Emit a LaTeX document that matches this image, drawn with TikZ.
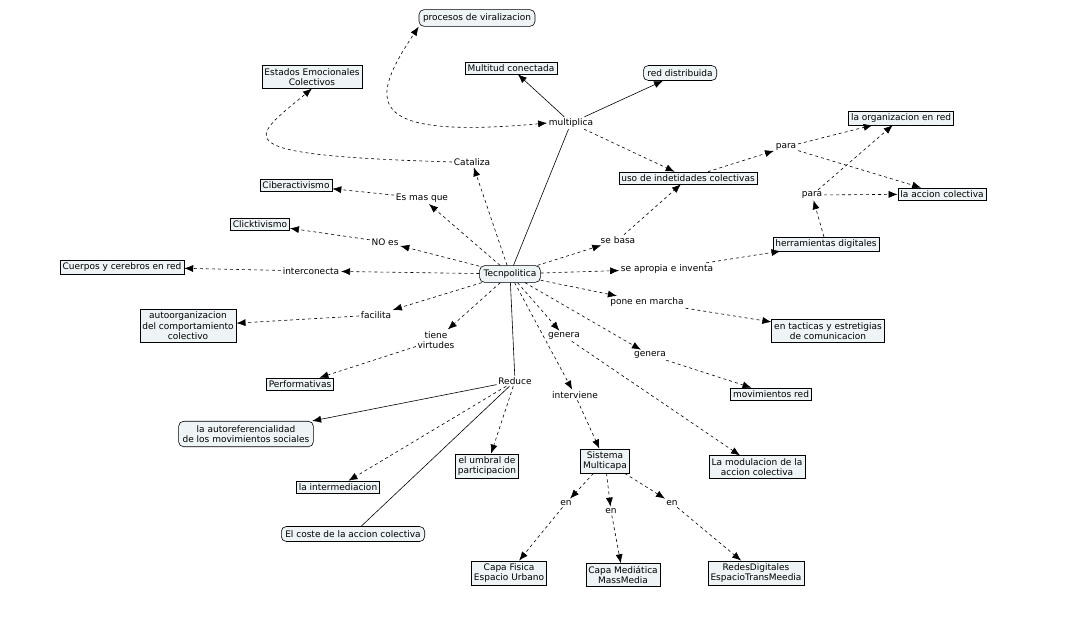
\documentclass[tikz,border=0pt]{standalone}
\usepackage{fontspec}
\setmainfont{DejaVu Sans}
\usetikzlibrary{arrows.meta}
\definecolor{boxfill}{HTML}{EEF3F5}
\tikzset{
  concept/.style={draw=black, fill=boxfill, inner sep=2.5pt, align=center, font=\fontsize{9}{10.5}\selectfont},
  rconcept/.style={concept, rounded corners=5pt, inner sep=4pt},
  linkword/.style={inner sep=1.5pt, align=center, font=\fontsize{9}{10.5}\selectfont},
  link/.style={dashed, -{Latex[length=9pt,width=7pt]}},
  slink/.style={-{Latex[length=9pt,width=7pt]}}
}
\begin{document}
\begin{tikzpicture}[x=1pt, y=-1pt, line width=0.6pt]
\useasboundingbox (0,0) rectangle (1073,622);

% concepts
\node[rconcept] (tec) at (510,274) {Tecnpolitica};
\node[rconcept] (viral) at (477,18) {procesos de viralizacion};
\node[concept] (multitud) at (511,68) {Multitud conectada};
\node[rconcept] (reddist) at (680,73) {red distribuida};
\node[concept] (emoc) at (312,77) {Estados Emocionales\\Colectivos};
\node[concept] (uso) at (688,178) {uso de indetidades colectivas};
\node[concept] (orgred) at (901,118) {la organizacion en red};
\node[concept] (accion) at (942,194) {la accion colectiva};
\node[concept] (herram) at (826,244) {herramientas digitales};
\node[concept] (ciber) at (296,185) {Ciberactivismo};
\node[concept] (click) at (260,224) {Clicktivismo};
\node[concept] (cuerpos) at (122,267) {Cuerpos y cerebros en red};
\node[concept] (tacticas) at (828,331) {en tacticas y estretigias\\de comunicacion};
\node[concept] (autoorg) at (188,326) {autoorganizacion\\del comportamiento\\colectivo};
\node[concept] (movred) at (771,394) {movimientos red};
\node[concept] (perf) at (300,384) {Performativas};
\node[rconcept] (autoref) at (246,434) {la autoreferencialidad\\de los movimientos sociales};
\node[concept] (umbral) at (487,466) {el umbral de\\participacion};
\node[concept] (sistema) at (605,461) {Sistema\\Multicapa};
\node[concept] (modul) at (757,467) {La modulacion de la\\accion colectiva};
\node[concept] (interm) at (338,487) {la intermediacion};
\node[rconcept] (coste) at (353,534) {El coste de la accion colectiva};
\node[concept] (fisica) at (509,573) {Capa Fisica\\Espacio Urbano};
\node[concept] (mediat) at (623,575) {Capa Mediática\\MassMedia};
\node[concept] (redes) at (756,573) {RedesDigitales\\EspacioTransMeedia};

% linking words
\node[linkword] (multiplica) at (571,123) {multiplica};
\node[linkword] (cataliza) at (472,162) {Cataliza};
\node[linkword] (para) at (786,147) {para};
\node[linkword] (paradig) at (812,195) {para};
\node[linkword] (esmas) at (422,198) {Es mas que};
\node[linkword] (noes) at (385,242) {NO es};
\node[linkword] (intercon) at (311,271) {interconecta};
\node[linkword] (sebasa) at (618,240) {se basa};
\node[linkword] (apropia) at (667,269) {se apropia e inventa};
\node[linkword] (pone) at (647,302) {pone en marcha};
\node[linkword] (facilita) at (376,315) {facilita};
\node[linkword] (virtudes) at (436,340) {tiene\\virtudes};
\node[linkword] (genera) at (564,336) {genera};
\node[linkword] (generab) at (650,355) {genera};
\node[linkword] (reduce) at (515,381) {Reduce};
\node[linkword] (interv) at (575,395) {interviene};
\node[linkword] (en) at (566,503) {en};
\node[linkword] (enb) at (611,511) {en};
\node[linkword] (enc) at (672,503) {en};

% solid connections
\draw (tec) -- (multiplica);
\draw[slink] (multiplica) -- (multitud);
\draw[slink] (multiplica) -- (reddist);
\draw (tec) -- (reduce);
\draw[slink] (reduce) -- (autoref);
\draw (reduce) -- (coste);

% dashed connections
\draw[link] (multiplica) -- (uso);
\draw[link, {Latex[length=9pt,width=7pt]}-{Latex[length=9pt,width=7pt]}] (multiplica.west) .. controls (360,140) and (370,100) .. (viral.south west);
\draw[link] (tec) -- (cataliza);
\draw[link] (cataliza.west) .. controls (220,155) and (250,140) .. (emoc.south);
\draw[link] (tec) -- (esmas);
\draw[link] (esmas) -- (ciber);
\draw[link] (tec) -- (noes);
\draw[link] (noes) -- (click);
\draw[link] (tec) -- (intercon);
\draw[link] (intercon) -- (cuerpos);
\draw[link] (tec) -- (sebasa);
\draw[link] (sebasa) -- (uso);
\draw[link] (uso) -- (para);
\draw[link] (para) -- (orgred);
\draw[link] (para) -- (accion);
\draw[link] (tec) -- (apropia);
\draw[link] (apropia) -- (herram);
\draw[link] (herram) -- (paradig);
\draw[link] (paradig) -- (accion);
\draw[link] (paradig) -- (orgred);
\draw[link] (tec) -- (pone);
\draw[link] (pone) -- (tacticas);
\draw[link] (tec) -- (facilita);
\draw[link] (facilita) -- (autoorg);
\draw[link] (tec) -- (virtudes);
\draw[link] (virtudes) -- (perf);
\draw[link] (tec) -- (genera);
\draw[link] (genera) -- (modul);
\draw[link] (tec) -- (generab);
\draw[link] (generab) -- (movred);
\draw[link] (tec) -- (interv);
\draw[link] (interv) -- (sistema);
\draw[link] (reduce) -- (interm);
\draw[link] (reduce) -- (umbral);
\draw[link] (sistema) -- (en);
\draw[link] (en) -- (fisica);
\draw[link] (sistema) -- (enb);
\draw[link] (enb) -- (mediat);
\draw[link] (sistema) -- (enc);
\draw[link] (enc) -- (redes);
\end{tikzpicture}
\end{document}
